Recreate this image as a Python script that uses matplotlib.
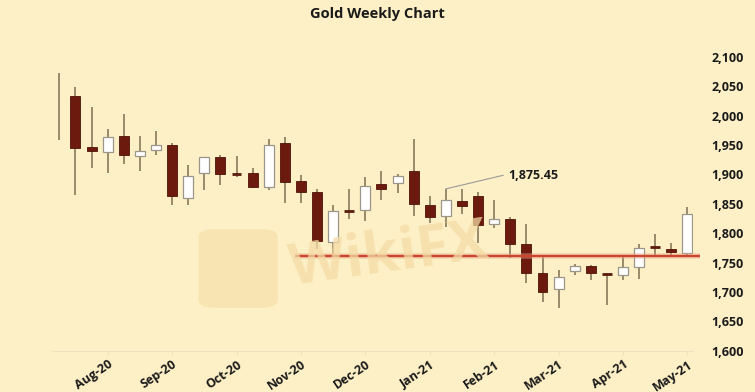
import matplotlib.pyplot as plt
from matplotlib.patches import FancyBboxPatch
import numpy as np

plt.rcParams['font.family'] = ['Open Sans', 'DejaVu Sans']

# Weekly OHLC (Aug-20 .. May-21)
opens = [2072.2, 2033.0, 1946.1, 1937.6, 1964.8, 1930.8, 1941.0, 1949.5, 1859.1, 1901.8,
         1929.1, 1900.6, 1901.8, 1877.9, 1952.9, 1888.1, 1869.4, 1785.9, 1838.9, 1838.7,
         1883.0, 1884.7, 1905.2, 1847.2, 1828.5, 1854.0, 1862.6, 1815.0, 1823.4, 1782.5,
         1733.1, 1705.8, 1735.7, 1745.0, 1731.0, 1728.9, 1743.3, 1778.0, 1774.0, 1767.1]
highs = [2072.2, 2048.4, 2014.3, 1976.8, 2002.4, 1964.8, 1973.3, 1952.9, 1915.4, 1929.1,
         1932.5, 1930.8, 1910.3, 1959.7, 1963.1, 1898.4, 1874.5, 1847.2, 1874.5, 1895.0,
         1905.2, 1900.1, 1959.7, 1862.6, 1875.45, 1874.5, 1869.4, 1855.7, 1826.8, 1814.9,
         1760.4, 1738.2, 1747.7, 1745.5, 1733.1, 1760.4, 1782.5, 1797.9, 1784.2, 1843.9]
lows = [1958.0, 1864.4, 1910.3, 1901.8, 1917.1, 1905.2, 1932.5, 1847.2, 1847.2, 1872.8,
        1881.3, 1895.0, 1876.2, 1872.8, 1850.6, 1850.6, 1774.0, 1762.0, 1823.4, 1820.0,
        1855.7, 1867.7, 1828.5, 1816.6, 1809.9, 1831.9, 1784.2, 1808.2, 1758.6, 1716.0,
        1683.4, 1673.2, 1728.9, 1721.1, 1678.5, 1721.1, 1722.8, 1762.0, 1763.7, 1762.0]
closes = [2072.2, 1944.4, 1939.3, 1963.1, 1932.5, 1939.3, 1949.5, 1862.6, 1896.6, 1929.1,
          1900.1, 1900.1, 1877.9, 1949.5, 1886.4, 1869.4, 1787.6, 1837.0, 1838.3, 1879.6,
          1874.5, 1896.6, 1849.0, 1826.8, 1855.7, 1845.5, 1813.3, 1823.4, 1782.5, 1733.1,
          1700.7, 1726.3, 1744.3, 1733.1, 1729.6, 1742.6, 1775.7, 1776.6, 1768.9, 1831.9]

month_labels = ['Aug-20', 'Sep-20', 'Oct-20', 'Nov-20', 'Dec-20',
                'Jan-21', 'Feb-21', 'Mar-21', 'Apr-21', 'May-21']
month_idx = [3, 7, 11, 15, 19, 23, 27, 31, 35, 39]

support_level = 1761
marked_idx = 24
marked_price = 1875.45

bg = '#FDF0C6'
fig = plt.figure(figsize=(7.55, 3.92), dpi=100, facecolor=bg)
ax = fig.add_axes([0.069, 0.105, 0.849, 0.750])
ax.set_facecolor(bg)

# faint watermark
fig.patches.append(FancyBboxPatch((0.268, 0.22), 0.095, 0.19, boxstyle='round,pad=0.005,rounding_size=0.02',
                                  transform=fig.transFigure, facecolor='#F6E2AE', edgecolor='none',
                                  alpha=0.8, zorder=0))
fig.text(0.515, 0.345, 'WikiFX', fontsize=42, fontweight='bold', color='#F4DCA6', alpha=0.75,
         ha='center', va='center', rotation=8, zorder=0)

x = np.arange(len(opens))
body_w = 0.62
for i in x:
    o, h, l, c = opens[i], highs[i], lows[i], closes[i]
    ax.vlines(i, l, h, color='#7E7050', linewidth=1.1, zorder=2)
    bottom = min(o, c)
    height = abs(c - o)
    if height < 1.5:
        # doji: tick only when the body sits inside the range
        if l < o < h:
            ax.hlines((o + c) / 2, i - body_w / 2, i + body_w / 2, color='#5A1A0C', linewidth=2, zorder=3)
        continue
    if c > o:
        ax.bar(i, height, body_w, bottom=bottom, color='white', edgecolor='#9A968A', linewidth=0.9, zorder=3)
    else:
        ax.bar(i, height, body_w, bottom=bottom, color='#6B1A0D', edgecolor='#4E1208', linewidth=0.6, zorder=3)

# support line
ax.plot([14.65, 39.8], [support_level, support_level], color='#EAA58C', linewidth=4,
        alpha=0.45, solid_capstyle='butt', clip_on=False, zorder=4)
ax.plot([14.65, 39.8], [support_level, support_level], color='#C9452E', linewidth=1.7,
        solid_capstyle='butt', clip_on=False, zorder=5)

# annotation of the high
ax.plot([marked_idx, marked_idx + 3.55], [marked_price, 1898.5], color='#9A9A9A', linewidth=0.8, zorder=4)
ax.text(marked_idx + 3.9, 1898.5, f'{marked_price:,.2f}', fontsize=9, fontweight='bold',
        color='#1A1A1A', va='center', ha='left')

ax.set_xlim(-0.45, 39.35)
ax.set_ylim(1600, 2100)
ax.set_yticks(np.arange(1600, 2101, 50))
ax.set_yticklabels([f'{v:,}' for v in range(1600, 2101, 50)])
ax.yaxis.tick_right()
ax.tick_params(axis='y', length=0, pad=13, labelsize=9, labelcolor='#1A1A1A')
for t in ax.get_yticklabels():
    t.set_fontweight('bold')

ax.set_xticks(month_idx)
ax.set_xticklabels(month_labels, rotation=34, ha='right', rotation_mode='anchor',
                   fontsize=9, fontweight='bold', color='#1A1A1A')
ax.tick_params(axis='x', length=3, color='#EEE2C0', pad=2)

for s in ['top', 'left', 'right']:
    ax.spines[s].set_visible(False)
ax.spines['bottom'].set_color('#EEE2C0')

fig.text(0.50, 0.965, 'Gold Weekly Chart', ha='center', va='center', fontsize=10.5,
         fontweight='bold', color='#1A1A1A')

fig.savefig('out.png', dpi=100, facecolor=bg)
